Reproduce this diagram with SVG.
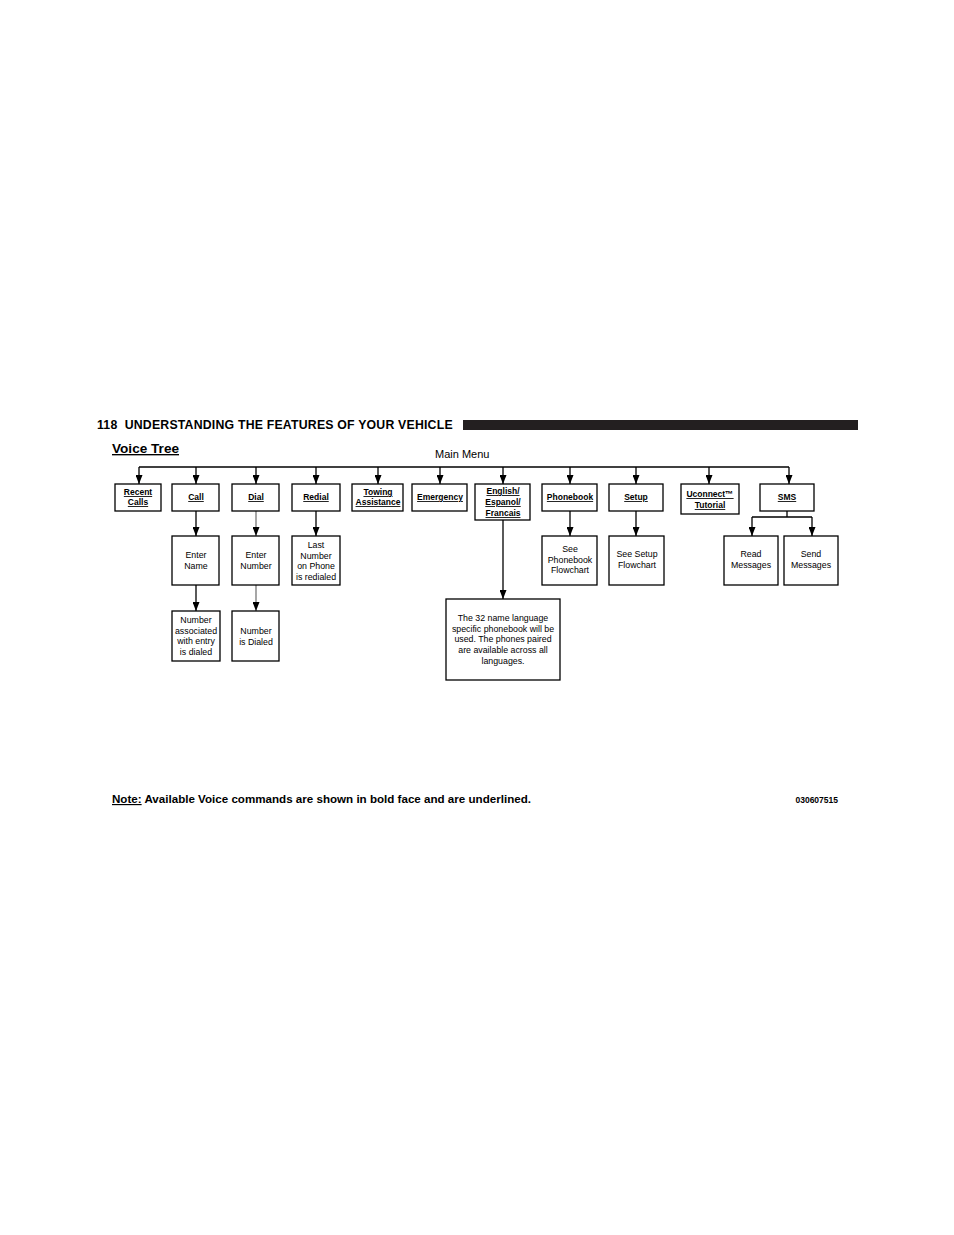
<svg xmlns="http://www.w3.org/2000/svg" width="954" height="1235" viewBox="0 0 954 1235">
<defs>
<marker id="ah" markerWidth="9" markerHeight="7" refX="9" refY="3.5" orient="auto" markerUnits="userSpaceOnUse" viewBox="0 0 9 7">
<path d="M0,0 L9,3.5 L0,7 Z" fill="#000"/>
</marker>
<style>
.bx{fill:#fff;stroke:#000;stroke-width:1.3}
.ln{fill:none;stroke:#000;stroke-width:1.3}
.lg{fill:none;stroke:#777;stroke-width:1.3}
.cmd{font-family:"Liberation Sans",Arial,sans-serif;font-size:8.5px;font-weight:bold;text-decoration:underline;text-anchor:middle;fill:#000}
.t{font-family:"Liberation Sans",Arial,sans-serif;font-size:8.8px;text-anchor:middle;fill:#000}
</style>
</defs>
<rect width="954" height="1235" fill="#fff"/>
<g id="header">
<text x="97" y="429" font-family="Liberation Sans,Arial,sans-serif" font-size="12.3" font-weight="bold" xml:space="preserve" letter-spacing="0.2">118  UNDERSTANDING THE FEATURES OF YOUR VEHICLE</text>
<rect x="463" y="420" width="395" height="10" fill="#231f20"/>
<text x="112" y="453" font-family="Liberation Sans,Arial,sans-serif" font-size="13.6" font-weight="bold" text-decoration="underline">Voice Tree</text>
<text x="435" y="458" font-family="Liberation Sans,Arial,sans-serif" font-size="11">Main Menu</text>
</g>
<g id="connectors">
<path class="ln" d="M139,467 H789"/>
<path class="ln" d="M139,467 V484" marker-end="url(#ah)"/>
<path class="ln" d="M196,467 V484" marker-end="url(#ah)"/>
<path class="ln" d="M256,467 V484" marker-end="url(#ah)"/>
<path class="ln" d="M316,467 V484" marker-end="url(#ah)"/>
<path class="ln" d="M378,467 V484" marker-end="url(#ah)"/>
<path class="ln" d="M440,467 V484" marker-end="url(#ah)"/>
<path class="ln" d="M503,467 V484" marker-end="url(#ah)"/>
<path class="ln" d="M570,467 V484" marker-end="url(#ah)"/>
<path class="ln" d="M636,467 V484" marker-end="url(#ah)"/>
<path class="ln" d="M709,467 V484" marker-end="url(#ah)"/>
<path class="ln" d="M789,467 V484" marker-end="url(#ah)"/>
<path class="ln" d="M196,511 V536" marker-end="url(#ah)"/>
<path class="lg" d="M256,511 V536" marker-end="url(#ah)"/>
<path class="ln" d="M316,511 V536" marker-end="url(#ah)"/>
<path class="ln" d="M570,511 V536" marker-end="url(#ah)"/>
<path class="ln" d="M636,511 V536" marker-end="url(#ah)"/>
<path class="ln" d="M787,511 V517 M752,517 H812"/>
<path class="ln" d="M752,517 V536" marker-end="url(#ah)"/>
<path class="ln" d="M812,517 V536" marker-end="url(#ah)"/>
<path class="ln" d="M196,585 V611" marker-end="url(#ah)"/>
<path class="lg" d="M256,585 V611" marker-end="url(#ah)"/>
<path class="ln" d="M503,520 V599" marker-end="url(#ah)"/>
</g>
<g id="recent-calls"><rect class="bx" x="115" y="484" width="46" height="27"/><text class="cmd" x="138" y="495">Recent </text><text class="cmd" x="138" y="505">Calls</text></g>
<g id="call"><rect class="bx" x="172" y="484" width="47" height="27"/><text class="cmd" x="196" y="500">Call</text></g>
<g id="dial"><rect class="bx" x="232" y="484" width="47" height="27"/><text class="cmd" x="256" y="500">Dial</text></g>
<g id="redial"><rect class="bx" x="292" y="484" width="48" height="27"/><text class="cmd" x="316" y="500">Redial</text></g>
<g id="towing"><rect class="bx" x="352" y="484" width="51" height="27"/><text class="cmd" x="378" y="495">Towing</text><text class="cmd" x="378" y="505">Assistance</text></g>
<g id="emergency"><rect class="bx" x="412" y="484" width="55" height="27"/><text class="cmd" x="440" y="500">Emergency</text></g>
<g id="language"><rect class="bx" x="475" y="484" width="55" height="36"/><text class="cmd" x="503" y="494">English/</text><text class="cmd" x="503" y="505">Espanol/</text><text class="cmd" x="503" y="516">Francais</text></g>
<g id="phonebook"><rect class="bx" x="542" y="484" width="55" height="27"/><text class="cmd" x="570" y="500">Phonebook</text></g>
<g id="setup"><rect class="bx" x="609" y="484" width="54" height="27"/><text class="cmd" x="636" y="500">Setup</text></g>
<g id="uconnect"><rect class="bx" x="681" y="484" width="58" height="30"/><text class="cmd" x="710" y="497">Uconnect™</text><text class="cmd" x="710" y="508">Tutorial</text></g>
<g id="sms"><rect class="bx" x="760" y="484" width="54" height="27"/><text class="cmd" x="787" y="500">SMS</text></g>
<g id="enter-name"><rect class="bx" x="172" y="536" width="47" height="49"/><text class="t" x="196" y="558">Enter</text><text class="t" x="196" y="569">Name</text></g>
<g id="enter-number"><rect class="bx" x="232" y="536" width="47" height="49"/><text class="t" x="256" y="558">Enter</text><text class="t" x="256" y="569">Number</text></g>
<g id="last-number"><rect class="bx" x="292" y="536" width="48" height="49"/><text class="t" x="316" y="548">Last</text><text class="t" x="316" y="559">Number</text><text class="t" x="316" y="569">on Phone</text><text class="t" x="316" y="580">is redialed</text></g>
<g id="see-phonebook"><rect class="bx" x="542" y="536" width="55" height="49"/><text class="t" x="570" y="552">See</text><text class="t" x="570" y="563">Phonebook</text><text class="t" x="570" y="573">Flowchart</text></g>
<g id="see-setup"><rect class="bx" x="609" y="536" width="55" height="49"/><text class="t" x="637" y="557">See Setup</text><text class="t" x="637" y="568">Flowchart</text></g>
<g id="read-messages"><rect class="bx" x="724" y="536" width="54" height="49"/><text class="t" x="751" y="557">Read</text><text class="t" x="751" y="568">Messages</text></g>
<g id="send-messages"><rect class="bx" x="784" y="536" width="54" height="49"/><text class="t" x="811" y="557">Send</text><text class="t" x="811" y="568">Messages</text></g>
<g id="number-associated"><rect class="bx" x="172" y="611" width="48" height="50"/><text class="t" x="196" y="623">Number</text><text class="t" x="196" y="634">associated</text><text class="t" x="196" y="644">with entry</text><text class="t" x="196" y="655">is dialed</text></g>
<g id="number-dialed"><rect class="bx" x="232" y="611" width="47" height="50"/><text class="t" x="256" y="634">Number</text><text class="t" x="256" y="645">is Dialed</text></g>
<g id="language-note"><rect class="bx" x="446" y="599" width="114" height="81"/><text class="t" x="503" y="621">The 32 name language</text><text class="t" x="503" y="632">specific phonebook will be</text><text class="t" x="503" y="642">used. The phones paired</text><text class="t" x="503" y="653">are available across all</text><text class="t" x="503" y="664">languages.</text></g>
<g id="footer">
<text x="112" y="803" font-family="Liberation Sans,Arial,sans-serif" font-size="11.6" font-weight="bold"><tspan text-decoration="underline">Note:</tspan> Available Voice commands are shown in bold face and are underlined.</text>
<text x="838" y="803" font-family="Liberation Sans,Arial,sans-serif" font-size="8.5" font-weight="bold" text-anchor="end">030607515</text>
</g>
</svg>
